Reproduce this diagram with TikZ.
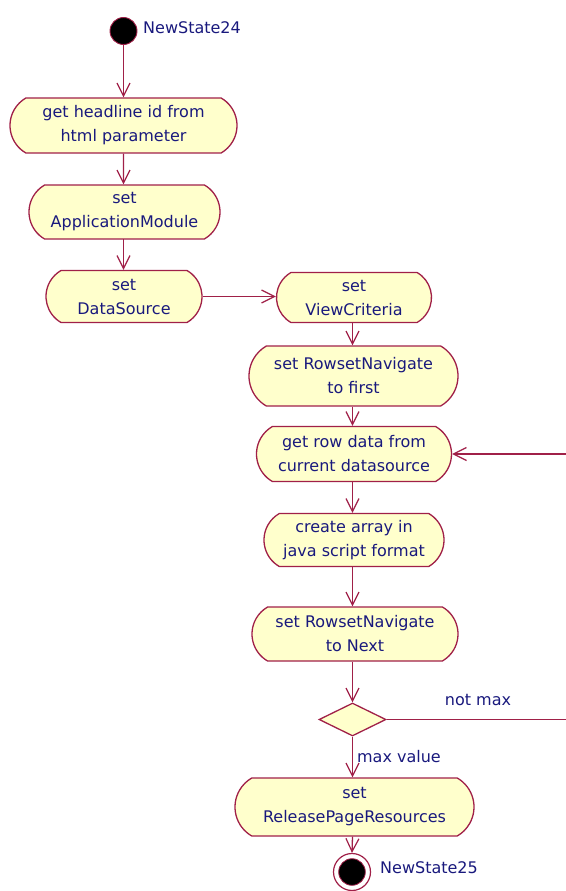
\documentclass[tikz,border=0pt]{standalone}
\usepackage{fontspec}
\setmainfont{DejaVu Sans}
\usetikzlibrary{shapes.misc,shapes.geometric,arrows.meta}
\definecolor{umlline}{RGB}{160,32,72}
\definecolor{umlfill}{RGB}{255,255,204}
\definecolor{umltext}{RGB}{25,25,125}
\tikzset{
  activity/.style={rounded rectangle, rounded rectangle arc length=120, draw=umlline, fill=umlfill,
    text=umltext, align=center, inner sep=0pt, line width=1.3pt, font=\fontsize{16}{24}\selectfont},
  flow/.style={draw=umlline, line width=1.3pt, -{Straight Barb[length=13pt,width=13pt,line width=1.2pt]}},
  statetext/.style={text=umltext, font=\fontsize{16}{20}\selectfont, inner sep=0pt}
}

\begin{document}
\begin{tikzpicture}[x=1pt,y=-1pt]
  \useasboundingbox (0,0) rectangle (565,891);

  \node[circle, fill=black, draw=umlline, line width=0.9pt, minimum size=27pt, inner sep=0pt] (start) at (123.5,31) {};
  \node[statetext, anchor=west] (startname) at (143,28) {NewState24};

  \node[activity, minimum width=227pt, minimum height=55pt] (headline) at (123.5,125.5) {get headline id from\\html parameter};
  \node[activity, minimum width=191pt, minimum height=54pt] (appmodule) at (124.5,212) {set\\ApplicationModule};
  \node[activity, minimum width=156pt, minimum height=52pt] (datasource) at (124,296.5) {set\\DataSource};
  \node[activity, minimum width=155pt, minimum height=50pt] (viewcrit) at (354,297.5) {set\\ViewCriteria};
  \node[activity, minimum width=209pt, minimum height=60pt] (navfirst) at (353.5,376) {set RowsetNavigate\\to first};
  \node[activity, minimum width=195pt, minimum height=55pt] (getrow) at (354,454) {get row data from\\current datasource};
  \node[activity, minimum width=180pt, minimum height=53pt] (mkarray) at (354,540) {create array in\\java script format};
  \node[activity, minimum width=206pt, minimum height=54pt] (navnext) at (355,634) {set RowsetNavigate\\to Next};
  \node[diamond, draw=umlline, fill=umlfill, line width=1.3pt, minimum width=67pt, minimum height=33pt, inner sep=0pt] (maxcheck) at (352.5,719.5) {};
  \node[activity, minimum width=239pt, minimum height=58pt] (release) at (354.5,807) {set\\ReleasePageResources};

  \node[circle, draw=umlline, line width=1.2pt, minimum size=37pt, inner sep=0pt] (final) at (352,872) {};
  \filldraw[fill=black, draw=umlline, line width=0.8pt] (final.center) circle (13.3);
  \node[statetext, anchor=west] (finalname) at (380,867.5) {NewState25};

  \coordinate (loopdown) at (580,719.5);
  \coordinate (loopup) at (580,454);

  \draw[flow] (start) -- (start |- headline.north);
  \draw[flow] (headline) -- (headline |- appmodule.north);
  \draw[flow] (123.5,239) -- (datasource.north -| 123.5,0);
  \draw[flow] (datasource.east) -- (viewcrit.west |- datasource.east);
  \draw[flow] (viewcrit.south -| 352.5,0) -- (navfirst.north -| 352.5,0);
  \draw[flow] (navfirst.south -| 352.5,0) -- (getrow.north -| 352.5,0);
  \draw[flow] (getrow.south -| 352.5,0) -- (mkarray.north -| 352.5,0);
  \draw[flow] (mkarray.south -| 352.5,0) -- (navnext.north -| 352.5,0);
  \draw[flow] (navnext.south -| 352.5,0) -- (maxcheck.north);
  \draw[flow] (maxcheck.south) -- (release.north -| 352.5,0) node[statetext, pos=0.5, anchor=west, xshift=4pt] (maxlabel) {max value};
  \draw[flow] (release.south -| 352.5,0) -- (final.north);
  \draw[flow] (maxcheck.east) -- (loopdown) -- (loopup) -- (getrow.east);
  \node[statetext] (notmaxlabel) at (478,700) {not max};
\end{tikzpicture}
\end{document}
